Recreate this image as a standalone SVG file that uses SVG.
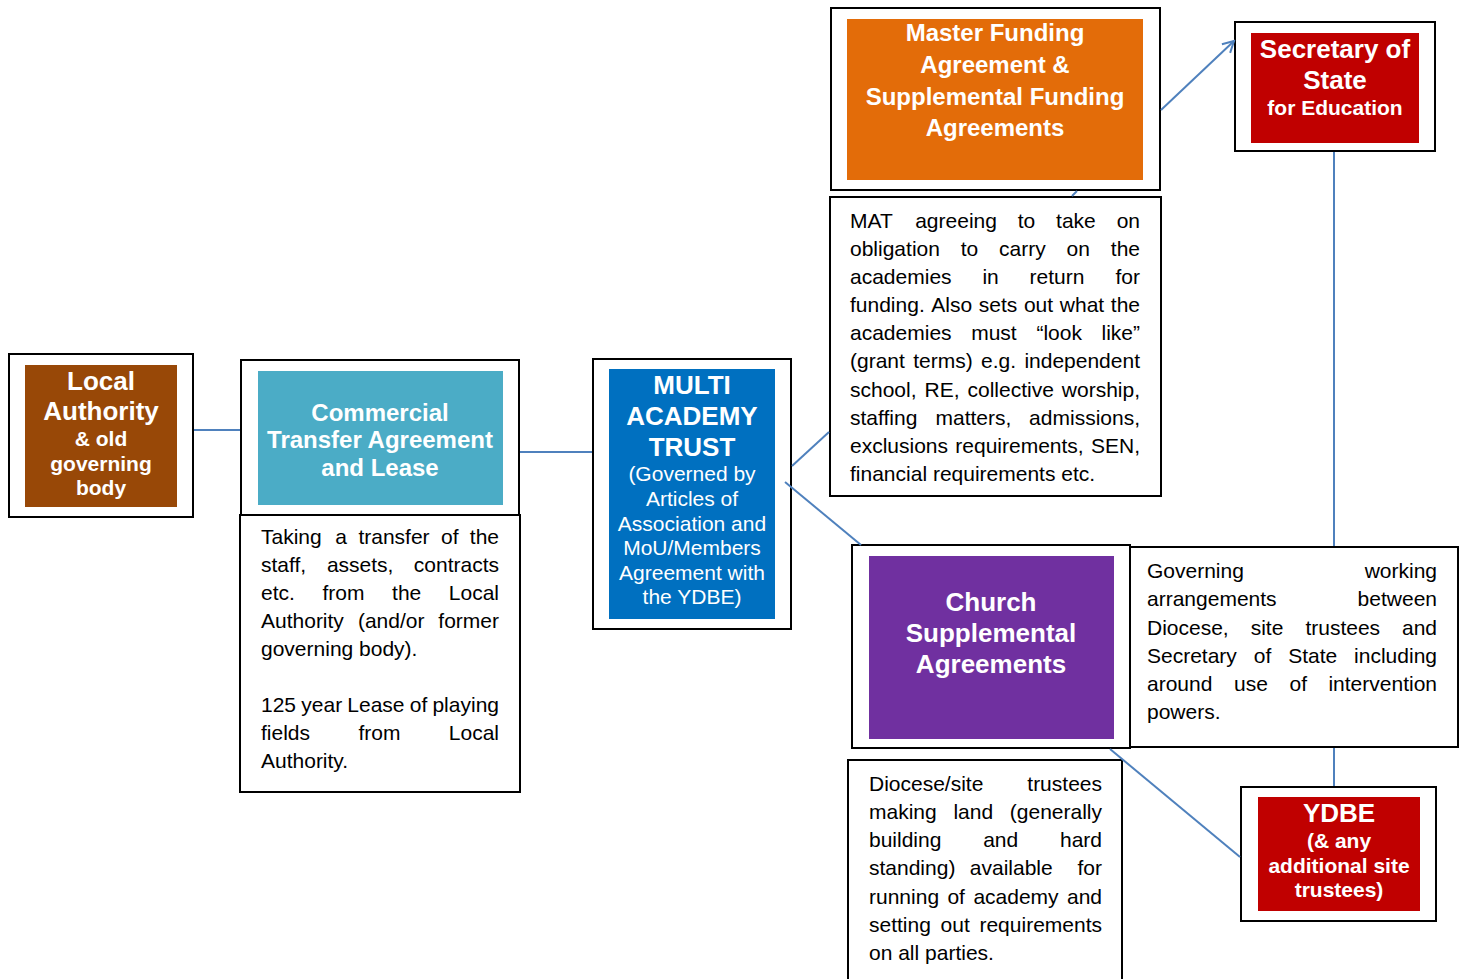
<svg xmlns="http://www.w3.org/2000/svg" width="1467" height="979" viewBox="0 0 1467 979">
<defs>
<style>
.frame{fill:#fff;stroke:#000;stroke-width:2}
.conn{stroke:#4F81BD;stroke-width:2;fill:none}
.t{font-family:"Liberation Sans",Arial,sans-serif;font-size:21px;fill:#000}
.h{font-family:"Liberation Sans",Arial,sans-serif;font-weight:bold;fill:#fff;text-anchor:middle}
.n{font-family:"Liberation Sans",Arial,sans-serif;fill:#fff;text-anchor:middle}
.e{text-anchor:end}
</style>
<marker id="arr" markerWidth="14" markerHeight="14" refX="12" refY="7" orient="auto" markerUnits="userSpaceOnUse">
<path d="M1,1 L12,7 L1,13" fill="none" stroke="#4F81BD" stroke-width="2"/>
</marker>
</defs>
<rect width="1467" height="979" fill="#fff"/>

<g id="local-authority">
<rect class="frame" x="9" y="354" width="184" height="163"/>
<rect x="25" y="365" width="152" height="142" fill="#984807"/>
<text class="h" x="101" font-size="26"><tspan x="101" y="390">Local</tspan><tspan x="101" y="420">Authority</tspan></text>
<text class="h" x="101" font-size="21"><tspan x="101" y="446">&amp; old</tspan><tspan x="101" y="471">governing</tspan><tspan x="101" y="495">body</tspan></text>
</g>

<g id="commercial-transfer">
<rect class="frame" x="241" y="360" width="278" height="155"/>
<rect x="258" y="371" width="245" height="134" fill="#4BACC6"/>
<text class="h" font-size="24"><tspan x="380" y="421">Commercial</tspan><tspan x="380" y="448">Transfer Agreement</tspan><tspan x="380" y="476">and Lease</tspan></text>
</g>

<g id="commercial-transfer-note">
<rect class="frame" x="240" y="515" width="280" height="277"/>
<g transform="translate(0,-1)">
<text class="t"><tspan x="261" y="545">Taking</tspan><tspan x="335.3" y="545">a</tspan><tspan x="358.4" y="545">transfer</tspan><tspan x="441" y="545">of</tspan><tspan x="499" y="545" class="e">the</tspan></text>
<text class="t"><tspan x="261" y="573">staff,</tspan><tspan x="326.9" y="573">assets,</tspan><tspan x="499" y="573" class="e">contracts</tspan></text>
<text class="t"><tspan x="261" y="601">etc.</tspan><tspan x="322.5" y="601">from</tspan><tspan x="392.1" y="601">the</tspan><tspan x="499" y="601" class="e">Local</tspan></text>
<text class="t"><tspan x="261" y="629">Authority</tspan><tspan x="357.9" y="629">(and/or</tspan><tspan x="499" y="629" class="e">former</tspan></text>
<text class="t" x="261" y="657">governing body).</text>
<text class="t"><tspan x="261" y="713">125</tspan><tspan x="301.3" y="713">year</tspan><tspan x="347.3" y="713">Lease</tspan><tspan x="409.8" y="713">of</tspan><tspan x="499" y="713" class="e">playing</tspan></text>
<text class="t"><tspan x="261" y="741">fields</tspan><tspan x="358.4" y="741">from</tspan><tspan x="499" y="741" class="e">Local</tspan></text>
<text class="t" x="261" y="769">Authority.</text>
</g>
</g>

<g id="multi-academy-trust">
<rect class="frame" x="593" y="359" width="198" height="270"/>
<rect x="609" y="369" width="166" height="250" fill="#0070C0"/>
<text class="h" font-size="26"><tspan x="692" y="394">MULTI</tspan><tspan x="692" y="425">ACADEMY</tspan><tspan x="692" y="456">TRUST</tspan></text>
<text class="n" font-size="21"><tspan x="692" y="481">(Governed by</tspan><tspan x="692" y="506">Articles of</tspan><tspan x="692" y="531">Association and</tspan><tspan x="692" y="555">MoU/Members</tspan><tspan x="692" y="580">Agreement with</tspan><tspan x="692" y="604">the YDBE)</tspan></text>
</g>

<g id="master-funding">
<rect class="frame" x="831" y="8" width="329" height="182"/>
<rect x="847" y="19" width="296" height="161" fill="#E36C09"/>
<text class="h" font-size="24"><tspan x="995" y="41">Master Funding</tspan><tspan x="995" y="73">Agreement &amp;</tspan><tspan x="995" y="105">Supplemental Funding</tspan><tspan x="995" y="136">Agreements</tspan></text>
</g>

<g id="master-funding-note">
<rect class="frame" x="830" y="197" width="331" height="299"/>
<g transform="translate(0,-1)">
<text class="t"><tspan x="850" y="229">MAT</tspan><tspan x="915.2" y="229">agreeing</tspan><tspan x="1017.7" y="229">to</tspan><tspan x="1056.1" y="229">take</tspan><tspan x="1140" y="229" class="e">on</tspan></text>
<text class="t"><tspan x="850" y="257">obligation</tspan><tspan x="960.7" y="257">to</tspan><tspan x="999" y="257">carry</tspan><tspan x="1066.5" y="257">on</tspan><tspan x="1140" y="257" class="e">the</tspan></text>
<text class="t"><tspan x="850" y="285">academies</tspan><tspan x="982.4" y="285">in</tspan><tspan x="1029.6" y="285">return</tspan><tspan x="1140" y="285" class="e">for</tspan></text>
<text class="t"><tspan x="850" y="313">funding.</tspan><tspan x="931.3" y="313">Also</tspan><tspan x="978.8" y="313">sets</tspan><tspan x="1023.9" y="313">out</tspan><tspan x="1059.8" y="313">what</tspan><tspan x="1140" y="313" class="e">the</tspan></text>
<text class="t"><tspan x="850" y="341">academies</tspan><tspan x="971.2" y="341">must</tspan><tspan x="1036.4" y="341">“look</tspan><tspan x="1140" y="341" class="e">like”</tspan></text>
<text class="t"><tspan x="850" y="369">(grant</tspan><tspan x="913.2" y="369">terms)</tspan><tspan x="981" y="369">e.g.</tspan><tspan x="1140" y="369" class="e">independent</tspan></text>
<text class="t"><tspan x="850" y="398">school,</tspan><tspan x="924.5" y="398">RE,</tspan><tspan x="967.5" y="398">collective</tspan><tspan x="1140" y="398" class="e">worship,</tspan></text>
<text class="t"><tspan x="850" y="426">staffing</tspan><tspan x="935.5" y="426">matters,</tspan><tspan x="1140" y="426" class="e">admissions,</tspan></text>
<text class="t"><tspan x="850" y="454">exclusions</tspan><tspan x="955.3" y="454">requirements,</tspan><tspan x="1140" y="454" class="e">SEN,</tspan></text>
<text class="t" x="850" y="482">financial requirements etc.</text>
</g>
</g>

<g id="secretary-of-state">
<rect class="frame" x="1235" y="22" width="200" height="129"/>
<rect x="1251" y="33" width="168" height="110" fill="#C00000"/>
<text class="h" font-size="26"><tspan x="1335" y="58">Secretary of</tspan><tspan x="1335" y="89">State</tspan></text>
<text class="h" font-size="21" x="1335" y="115">for Education</text>
</g>

<g id="church-supplemental">
<rect class="frame" x="852" y="545" width="278" height="203"/>
<rect x="869" y="556" width="245" height="183" fill="#7030A0"/>
<text class="h" font-size="26"><tspan x="991" y="611">Church</tspan><tspan x="991" y="642">Supplemental</tspan><tspan x="991" y="673">Agreements</tspan></text>
</g>

<g id="church-governing-note">
<rect class="frame" x="1130" y="547" width="328" height="200"/>
<g transform="translate(0,-1)">
<text class="t"><tspan x="1147" y="579">Governing</tspan><tspan x="1437" y="579" class="e">working</tspan></text>
<text class="t"><tspan x="1147" y="607">arrangements</tspan><tspan x="1437" y="607" class="e">between</tspan></text>
<text class="t"><tspan x="1147" y="636">Diocese,</tspan><tspan x="1250.7" y="636">site</tspan><tspan x="1305.4" y="636">trustees</tspan><tspan x="1437" y="636" class="e">and</tspan></text>
<text class="t"><tspan x="1147" y="664">Secretary</tspan><tspan x="1253.8" y="664">of</tspan><tspan x="1288.2" y="664">State</tspan><tspan x="1437" y="664" class="e">including</tspan></text>
<text class="t"><tspan x="1147" y="692">around</tspan><tspan x="1234" y="692">use</tspan><tspan x="1289.5" y="692">of</tspan><tspan x="1437" y="692" class="e">intervention</tspan></text>
<text class="t" x="1147" y="720">powers.</text>
</g>
</g>

<g id="church-land-note">
<rect class="frame" x="848" y="760" width="274" height="230"/>
<g transform="translate(0,-1)">
<text class="t"><tspan x="869" y="792">Diocese/site</tspan><tspan x="1102" y="792" class="e">trustees</tspan></text>
<text class="t"><tspan x="869" y="820">making</tspan><tspan x="953.4" y="820">land</tspan><tspan x="1102" y="820" class="e">(generally</tspan></text>
<text class="t"><tspan x="869" y="848">building</tspan><tspan x="983.2" y="848">and</tspan><tspan x="1102" y="848" class="e">hard</tspan></text>
<text class="t"><tspan x="869" y="876">standing)</tspan><tspan x="969.8" y="876">available</tspan><tspan x="1102" y="876" class="e">for</tspan></text>
<text class="t"><tspan x="869" y="905">running</tspan><tspan x="947.4" y="905">of</tspan><tspan x="973.4" y="905">academy</tspan><tspan x="1102" y="905" class="e">and</tspan></text>
<text class="t"><tspan x="869" y="933">setting</tspan><tspan x="940.6" y="933">out</tspan><tspan x="1102" y="933" class="e">requirements</tspan></text>
<text class="t" x="869" y="961">on all parties.</text>
</g>
</g>

<g id="ydbe">
<rect class="frame" x="1241" y="787" width="195" height="134"/>
<rect x="1258" y="797" width="162" height="114" fill="#C00000"/>
<text class="h" font-size="26" x="1339" y="822">YDBE</text>
<text class="h" font-size="21"><tspan x="1339" y="848">(&amp; any</tspan><tspan x="1339" y="873">additional site</tspan><tspan x="1339" y="897">trustees)</tspan></text>
</g>

<g id="connectors">
<line class="conn" x1="194" y1="430" x2="240" y2="430"/>
<line class="conn" x1="520" y1="452" x2="592" y2="452"/>
<line class="conn" x1="792" y1="466" x2="829" y2="432"/>
<line class="conn" x1="785" y1="482" x2="861" y2="545"/>
<line class="conn" x1="1072" y1="196" x2="1077" y2="191"/>
<line class="conn" x1="1161" y1="110" x2="1234" y2="41" marker-end="url(#arr)"/>
<line class="conn" x1="1334" y1="152" x2="1334" y2="546"/>
<line class="conn" x1="1334" y1="748" x2="1334" y2="786"/>
<line class="conn" x1="1110" y1="749" x2="1240" y2="857"/>
</g>
</svg>
